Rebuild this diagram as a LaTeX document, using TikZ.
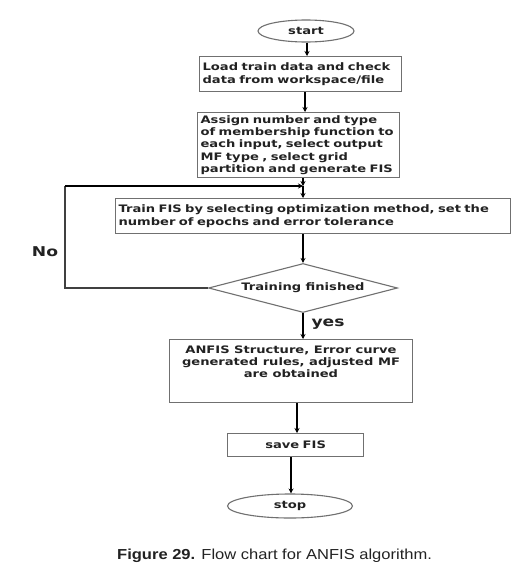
\documentclass[tikz,border=0pt]{standalone}
\usepackage{fontspec}
\setmainfont{Liberation Sans}
\newfontfamily\capfont{Liberation Sans}[FakeStretch=1.14]
\newfontfamily\dv{DejaVu Sans}[FakeStretch=1.27]
\usetikzlibrary{shapes.geometric,arrows.meta}
\definecolor{bordergray}{HTML}{707070}
\definecolor{txt}{HTML}{222222}
\begin{document}
\begin{tikzpicture}[x=1pt,y=-1pt,
  every node/.style={text=txt},
  bxfont/.style={font=\dv\bfseries\fontsize{10.3}{12.2}\selectfont},
  box/.style={draw=bordergray,line width=1.2pt,anchor=north west,inner xsep=3pt,inner ysep=2pt,bxfont},
  term/.style={draw=bordergray,line width=1.1pt,ellipse,inner sep=0pt,bxfont},
  arr/.style={line width=1.8pt,draw=black,-{Stealth[length=5pt,width=5pt]}},
  loopline/.style={line width=1.3pt,draw=black!75},
  lbl/.style={font=\dv\bfseries\fontsize{13.5}{15}\selectfont}]
\useasboundingbox (0,0) rectangle (519,570);
\fill[white] (0,0) rectangle (519,570);

\node[term,minimum width=96pt,minimum height=22pt] (start) at (306,31) {start};
\node[box,minimum width=202pt,minimum height=35pt,text width=196pt,align=left] (box1) at (199,56)
  {Load train data and check\\data from workspace/file};
\node[box,minimum width=202pt,minimum height=65pt,text width=196pt,align=left] (box2) at (197,112)
  {Assign number and type\\of membership function to\\each input, select output\\MF type , select grid\\partition and generate FIS};
\node[box,minimum width=395pt,minimum height=35pt,text width=389pt,align=left] (box3) at (115,198)
  {Train FIS by selecting optimization method, set the\\number of epochs and error tolerance};
\node[draw=bordergray,line width=1.1pt,diamond,aspect=3.86,minimum width=189pt,minimum height=49pt,inner sep=0pt,
  bxfont] (dia) at (303,288) {Training finished};
\node[box,minimum width=243pt,minimum height=63pt] (box4b) at (169,339) {};
\node[bxfont,align=center,anchor=north] (box4) at (291,342)
  {ANFIS Structure, Error curve\\generated rules, adjusted MF\\are obtained};
\node[box,minimum width=136pt,minimum height=23pt,text width=130pt,align=center] (box5) at (227,433) {save FIS};
\node[term,minimum width=125pt,minimum height=24pt] (stop) at (290,506) {stop};

\coordinate (a1) at (307,0);
\coordinate (a2) at (305,0);
\coordinate (j) at (303,186);
\coordinate (lx) at (65,0);
\coordinate (a5) at (297,0);
\coordinate (a6) at (291,0);

\draw[arr] (a1 |- start.south) -- (a1 |- box1.north);
\draw[arr] (a2 |- box1.south) -- (a2 |- box2.north);
\draw[arr] (j |- box2.south) -- (j);
\draw[loopline] (dia.west) -- (dia.west -| lx) -- (lx |- j);
\draw[arr,line width=1.3pt] (lx |- j) -- (j);
\draw[arr] (j) -- (j |- box3.north);
\draw[arr] (j |- box3.south) -- (dia.north);
\draw[arr] (dia.south) -- (dia.south |- box4b.north);
\draw[arr] (a5 |- box4b.south) -- (a5 |- box5.north);
\draw[arr] (a6 |- box5.south) -- (stop.north -| a6);

\node[lbl] (no) at (45,252) {No};
\node[lbl,anchor=west] (yes) at (308,324) {yes};

\node[font=\capfont\fontsize{14.5}{16}\selectfont,anchor=base west,inner sep=0pt] (cap) at (117,559) {\textbf{Figure 29.} Flow chart for ANFIS algorithm.};
\end{tikzpicture}
\end{document}
